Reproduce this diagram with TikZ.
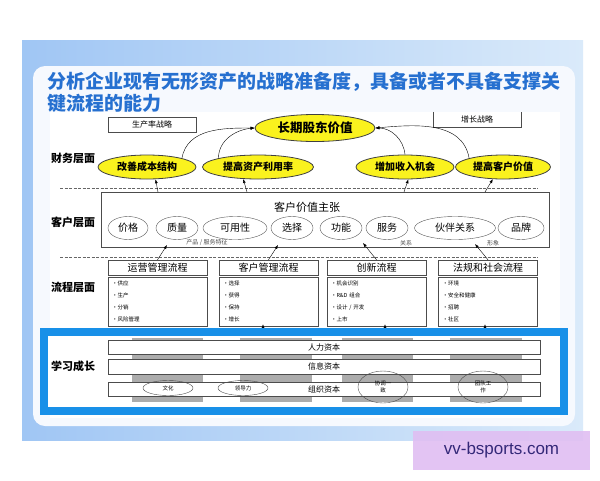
\documentclass[tikz,border=0pt]{standalone}
\usepackage{fontspec}
\setmainfont{Noto Sans CJK SC}
\newfontfamily\wmfont{Liberation Sans}
\usetikzlibrary{shapes.geometric,arrows.meta}
\definecolor{titleblue}{RGB}{38,112,208}
\definecolor{frameblue}{RGB}{24,144,232}
\definecolor{goalyellow}{RGB}{250,242,30}
\definecolor{panelblue}{RGB}{160,198,244}
\definecolor{panelpale}{RGB}{218,234,250}
\definecolor{panelwhite}{RGB}{246,249,254}
\definecolor{barback}{RGB}{172,172,172}
\definecolor{wmlilac}{RGB}{224,190,242}
\definecolor{wmtext}{RGB}{52,40,120}

\begin{document}
\begin{tikzpicture}[x=1pt,y=-1pt,auto,>={Latex[length=4pt,width=3pt]}]

%
% Styles
%
\tikzstyle{goal} = [ellipse,draw=black!75,fill=goalyellow,thick,inner sep=0pt,minimum height=24pt,font=\fontsize{10}{10}\selectfont\bfseries]
\tikzstyle{value} = [ellipse,draw=black!65,fill=white,inner sep=0pt,minimum height=23pt,font=\fontsize{10}{10}\selectfont]
\tikzstyle{layer} = [font=\fontsize{11}{11}\selectfont\bfseries]
\tikzstyle{strat} = [rectangle,draw=black!70,inner sep=0pt,minimum width=88pt,minimum height=15pt,font=\fontsize{8}{8}\selectfont]
\tikzstyle{prochead} = [rectangle,draw=black!70,fill=white,inner sep=0pt,minimum width=99pt,minimum height=15pt,font=\fontsize{10}{10}\selectfont]
\tikzstyle{procbody} = [rectangle,draw=black!70,fill=white,inner sep=4pt,text width=91pt,minimum height=49pt,align=left,font=\fontsize{5.5}{12}\selectfont]
\tikzstyle{capital} = [rectangle,draw=black!70,fill=white,inner sep=0pt,minimum width=432pt,minimum height=14pt,font=\fontsize{8}{8}\selectfont]
\tikzstyle{trait} = [ellipse,draw=black!70,inner sep=0pt,minimum width=50pt,minimum height=15pt,align=center,font=\fontsize{5.5}{7}\selectfont]
\tikzstyle{note} = [inner sep=0pt,font=\fontsize{6}{6}\selectfont,text=black!70]
\tikzstyle{sep} = [draw=black!60,line width=0.8pt,dash pattern=on 3pt off 1.5pt]

\useasboundingbox (0,0) rectangle (600,480);

% background
\shade[left color=panelblue,right color=panelpale] (22,40) rectangle (583,440);
\fill[panelwhite,rounded corners=12pt] (33,66) rectangle (575,426);
\fill[white] (50,112) rectangle (560,418);

\node[anchor=north west,align=left,inner sep=0pt,text=titleblue,font=\fontsize{19}{22}\selectfont\bfseries] (title) at (47,72)
  {分析企业现有无形资产的战略准备度，具备或者不具备支撑关\\键流程的能力};

% finance
\node[strat] (prod) at (152,124.5) {生产率战略};
\node[strat,draw=none] (grow) at (477,119.5) {增长战略};
\draw[black!70] (grow.north west) |- (grow.south east) -- (grow.north east);

\node[goal,minimum width=120pt,minimum height=27pt,font=\fontsize{12.5}{12.5}\selectfont\bfseries] (ltsv) at (315,128) {长期股东价值};
\node[goal,minimum width=98pt] (cost) at (147,167) {改善成本结构};
\node[goal,minimum width=111pt] (asset) at (258,167) {提高资产利用率};
\node[goal,minimum width=98pt] (income) at (405,167) {增加收入机会};
\node[goal,minimum width=95pt] (custval) at (503,167) {提高客户价值};

\draw[->] (cost.north east) to[out=80,in=180] (ltsv.west);
\draw[->] (asset.north west) to[out=90,in=185] (ltsv.west);
\draw[->] (income.north) to[out=95,in=0] (ltsv.east);
\draw[->] (custval.north west) to[out=100,in=5] (ltsv.east);

\node[layer] (fin) at (73,158) {财务层面};
\draw[sep] (60,188) -- (538,188);

% customer
\node[rectangle,draw=black!70,fill=white,minimum width=448pt,minimum height=55pt] (cust) at (325,219.5) {};
\node[font=\fontsize{11}{11}\selectfont] (prop) at (307,207) {客户价值主张};
\node[value,minimum width=40pt] (price) at (128,228) {价格};
\node[value,minimum width=42pt] (quality) at (177,228) {质量};
\node[value,minimum width=64pt] (avail) at (235,228) {可用性};
\node[value,minimum width=42pt] (choice) at (292,228) {选择};
\node[value,minimum width=42pt] (func) at (341,228) {功能};
\node[value,minimum width=42pt] (service) at (387,228) {服务};
\node[value,minimum width=81pt] (partner) at (455,228) {伙伴关系};
\node[value,minimum width=46pt] (brand) at (521,228) {品牌};
\node[note] (feat) at (207,243) {产品 / 服务特征};
\node[note] (rel) at (406,243) {关系};
\node[note] (img) at (493,243) {形象};

\coordinate (f1) at (158,192);
\coordinate (f2) at (247,192);
\coordinate (f3) at (404,192);
\coordinate (f4) at (485,192);
\draw[->] (f1) -- (cost.-55);
\draw[->] (f2) -- (asset.-141);
\draw[->] (f3) -- (income.-75);
\draw[->] (f4) -- (custval.-130);

\node[layer] (cus) at (73,222) {客户层面};
\draw[sep] (60,257) -- (538,257);

% process
\node[prochead] (ph1) at (157.5,267.5) {运营管理流程};
\node[prochead] (ph2) at (268.5,267.5) {客户管理流程};
\node[prochead] (ph3) at (376.5,267.5) {创新流程};
\node[prochead] (ph4) at (488,267.5) {法规和社会流程};
\node[procbody] (pb1) at (157.5,301.5) {•供应\\•生产\\•分销\\•风险管理};
\node[procbody] (pb2) at (268.5,301.5) {•选择\\•获得\\•保持\\•增长};
\node[procbody] (pb3) at (376.5,301.5) {•机会识别\\•R\&D 组合\\•设计 / 开发\\•上市};
\node[procbody] (pb4) at (488,301.5) {•环境\\•安全和健康\\•招聘\\•社区};

\coordinate (u1) at (167,245);
\coordinate (u2) at (278,245);
\coordinate (u3) at (363,243);
\coordinate (u4) at (475,244);
\draw[->] (ph1.north) -- (u1);
\draw[->] (ph2.north) -- (u2);
\draw[->] (ph3.north) -- (u3);
\draw[->] (ph4.north) -- (u4);

\node[layer] (proc) at (73,287) {流程层面};

% learning and growth
\coordinate (l2) at (263,336);
\coordinate (l3) at (385,336);
\coordinate (l4) at (485,336);
\draw[->,shorten >=-2pt] (l2) -- (pb2.south -| l2);
\draw[->,shorten >=-2pt] (l3) -- (pb3.south -| l3);
\draw[->,shorten >=-2pt] (l4) -- (pb4.south -| l4);

\draw[frameblue,line width=8pt,fill=white] (44,332) rectangle (564,411);

\fill[barback] (132,338) rectangle (203,402);
\fill[barback] (240,338) rectangle (312,402);
\fill[barback] (342,338) rectangle (413,402);
\fill[barback] (450,338) rectangle (522,402);

\node[capital] (human) at (324,347) {人力资本};
\node[capital,minimum height=15pt] (info) at (324,366.5) {信息资本};
\node[capital] (org) at (324,389) {组织资本};

\node[trait] (culture) at (168,388) {文化};
\node[trait] (lead) at (243,388) {领导力};
\node[trait,minimum height=32pt] (concord) at (383,387) {协调一\\致};
\node[trait,minimum height=32pt] (team) at (483,387) {团队工\\作};

\node[layer] (learn) at (73,366) {学习成长};

% watermark
\node[fill=wmlilac,fill opacity=0.9,text opacity=1,text=wmtext,minimum width=177pt,minimum height=39pt,font=\wmfont\fontsize{17}{17}\selectfont] (wm) at (501.5,450.5) {vv-bsports.com};

\end{tikzpicture}
\end{document}
